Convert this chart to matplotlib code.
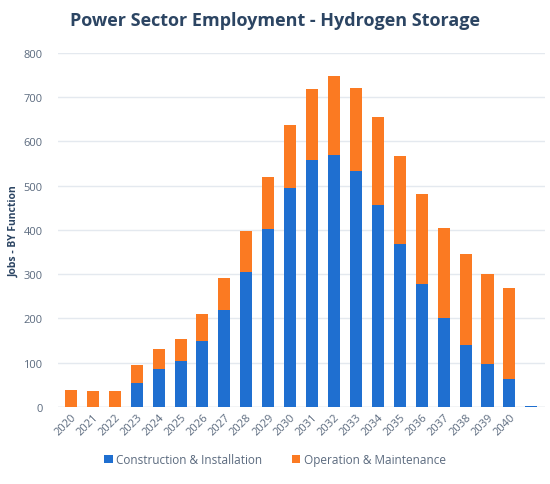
import matplotlib.pyplot as plt
import numpy as np

plt.rcParams['font.family'] = ['Open Sans', 'DejaVu Sans']

years = ['2020', '2021', '2022', '2023', '2024', '2025', '2026', '2027', '2028',
         '2029', '2030', '2031', '2032', '2033', '2034', '2035', '2036', '2037',
         '2038', '2039', '2040', '']
construction = [0, 0, 0, 55, 85, 103, 150, 218, 305, 403, 495, 557, 570, 532,
                457, 367, 277, 200, 140, 96, 64, 2]
totals = [38, 37, 36, 95, 130, 153, 210, 291, 398, 520, 636, 718, 747, 720,
          654, 567, 480, 405, 345, 300, 268, 2]
operation = [t - c for t, c in zip(totals, construction)]

blue = '#1f6fd0'
orange = '#fb7a22'
text_col = '#5b6a7e'
title_col = '#2c4563'

fig = plt.figure(figsize=(5.5, 4.85), dpi=100)
ax = fig.add_axes([0.105, 0.159, 0.885, 0.730])

x = np.arange(len(years))
ax.bar(x, construction, width=0.55, color=blue, label='Construction & Installation', zorder=3)
ax.bar(x, operation, width=0.55, bottom=construction, color=orange,
       label='Operation & Maintenance', zorder=3)

ax.set_ylim(0, 800)
ax.set_xlim(-0.6, len(years) - 0.4)
ax.set_yticks(range(0, 801, 100))
ax.grid(axis='y', color='#e4e9ef', linewidth=1, zorder=0)
for s in ax.spines.values():
    s.set_visible(False)
ax.axhline(0, color='#d6dde6', linewidth=1, zorder=2)
ax.tick_params(axis='both', length=0, colors=text_col, labelsize=8)
ax.tick_params(axis='y', pad=11)
ax.set_xticks(x)
ax.set_xticklabels(years, rotation=45, ha='right', rotation_mode='anchor')
ax.set_ylabel('Jobs - BY Function', fontsize=7.5, fontweight='bold', color=title_col, labelpad=3)

fig.suptitle('Power Sector Employment - Hydrogen Storage', x=0.5, y=0.975,
             fontsize=13, fontweight='bold', color=title_col)

fig.legend(loc='lower center', bbox_to_anchor=(0.5, 0.015), ncol=2, frameon=False,
           fontsize=8.5, labelcolor=text_col, handlelength=0.7, handleheight=0.7,
           handletextpad=0.3, columnspacing=2.5)

fig.savefig('out.png', dpi=100)
